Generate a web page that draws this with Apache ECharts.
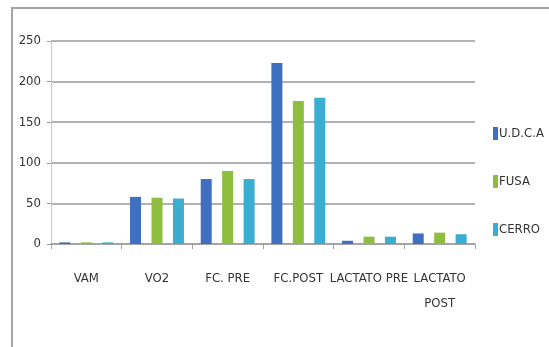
<!DOCTYPE html>
<html>
<head>
<meta charset="utf-8">
<script src="https://cdn.jsdelivr.net/npm/echarts@6/dist/echarts.min.js"></script>
<style>
html,body{margin:0;padding:0;background:#fff;}
#chart{width:549px;height:347px;}
</style>
</head>
<body>
<div id="chart"></div>
<script>
// Categories and per-group values
var categories = ['VAM', 'VO2', 'FC. PRE', 'FC.POST', 'LACTATO PRE', 'LACTATO\nPOST'];
var udca  = [2, 58, 80, 223, 4, 13];
var fusa  = [2, 57, 90, 176, 9, 14];
var cerro = [2, 56, 80, 180, 9, 12];
var yTicks = [0, 50, 100, 150, 200, 250];

var FONT = '"DejaVu Sans Condensed", "Liberation Sans Narrow", sans-serif';
var chart = echarts.init(document.getElementById('chart'), null, {renderer: 'canvas'});

function bar(name, data, color) {
  return {
    name: name, type: 'bar', data: data,
    barWidth: 11, barGap: '95%',
    itemStyle: {color: color}
  };
}

chart.setOption({
  animation: false,
  backgroundColor: '#fff',
  graphic: [{
    type: 'rect',
    shape: {x: 12, y: 8, width: 560, height: 360},
    style: {fill: 'none', stroke: '#a6a6a6', lineWidth: 2},
    silent: true
  }],
  grid: {left: 51, right: 74, top: 41, bottom: 103},
  legend: {
    orient: 'vertical',
    left: 488, top: 122,
    itemWidth: 5, itemHeight: 13, itemGap: 35,
    icon: 'rect',
    textStyle: {fontFamily: FONT, fontSize: 13, color: '#333', padding: [0, 0, 0, -4]},
    data: ['U.D.C.A', 'FUSA', 'CERRO']
  },
  xAxis: {
    type: 'category', data: categories,
    axisLine: {lineStyle: {color: '#a0a0a0', width: 1.5}},
    axisTick: {show: true, length: 5, lineStyle: {color: '#a0a0a0'}},
    axisLabel: {fontFamily: FONT, fontSize: 13, color: '#333', margin: 22, lineHeight: 25, interval: 0}
  },
  yAxis: {
    type: 'value', min: 0, max: 250, interval: 50,
    axisLine: {show: true, lineStyle: {color: '#c8c8c8', width: 1}},
    axisTick: {show: true, length: 4, lineStyle: {color: '#999'}},
    splitLine: {lineStyle: {color: '#999', width: 1.5}},
    axisLabel: {
      fontFamily: FONT, fontSize: 13, color: '#333', margin: 10,
      formatter: function (v) { return yTicks.indexOf(v) >= 0 ? String(v) : ''; }
    }
  },
  series: [
    bar('U.D.C.A', udca, '#3e6fc1'),
    bar('FUSA', fusa, '#8fbd3f'),
    bar('CERRO', cerro, '#3aadd0')
  ]
});
</script>
</body>
</html>
